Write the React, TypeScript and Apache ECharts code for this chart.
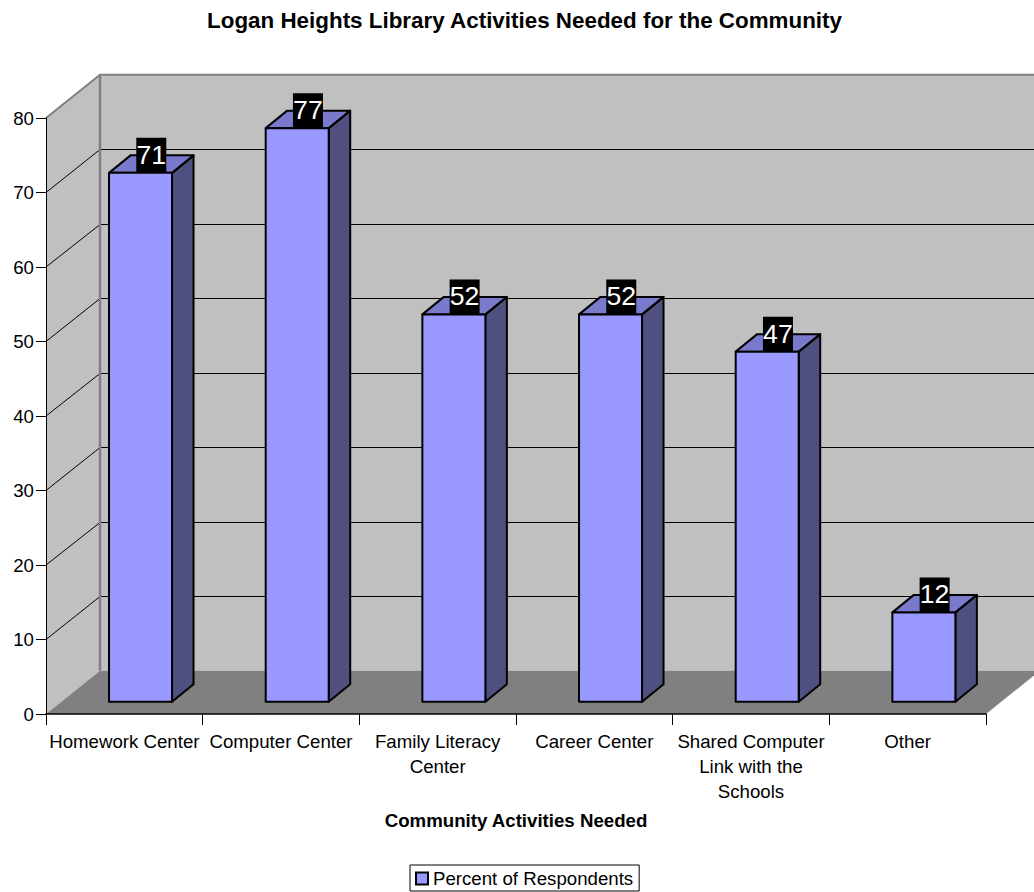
import React, { useEffect, useRef } from "react";
import * as echarts from "echarts";

const titleText = "Logan Heights Library Activities Needed for the Community";
const xAxisTitle = "Community Activities Needed";
const seriesName = "Percent of Respondents";
const categories = [
  "Homework Center",
  "Computer Center",
  "Family Literacy Center",
  "Career Center",
  "Shared Computer Link with the Schools",
  "Other",
];
const wrappedLabels = [
  "Homework Center",
  "Computer Center",
  "Family Literacy\nCenter",
  "Career Center",
  "Shared Computer\nLink with the\nSchools",
  "Other",
];
const values = [71, 77, 52, 52, 47, 12];
const gridValues = [10, 20, 30, 40, 50, 60, 70];

const FONT = '"Liberation Sans", Arial, sans-serif';
const WALL_DX = 54;
const WALL_DY = 43.3;
const BAR_SHIFT_X = 16.2;
const BAR_SHIFT_Y = 12.2;
const BAR_W = 63;
const BAR_DX = 21.5;
const BAR_DY = 17.5;

function renderWalls(params: any, api: any) {
  const cs = params.coordSys;
  const x0 = cs.x;
  const x1 = cs.x + cs.width;
  const y0 = api.coord([0, 0])[1];
  const yTop = api.coord([0, 80])[1];
  const children: any[] = [
    {
      type: "polygon",
      shape: { points: [[x0, y0], [x0 + WALL_DX, y0 - WALL_DY], [x1 + WALL_DX, y0 - WALL_DY], [x1 + WALL_DX, yTop - WALL_DY], [x0 + WALL_DX, yTop - WALL_DY], [x0, yTop]] },
      style: { fill: "#c0c0c0", stroke: "none" },
    },
    {
      type: "polygon",
      shape: { points: [[x0, y0], [x1, y0], [x1 + WALL_DX, y0 - WALL_DY], [x0 + WALL_DX, y0 - WALL_DY]] },
      style: { fill: "#808080", stroke: "none" },
    },
  ];
  gridValues.forEach((v) => {
    const y = api.coord([0, v])[1];
    const backY = Math.round(y - WALL_DY) + 0.5;
    children.push({
      type: "polyline",
      shape: { points: [[x0, y], [x0 + WALL_DX, backY], [x1 + WALL_DX, backY]] },
      style: { fill: "none", stroke: "#000", lineWidth: 1 },
    });
  });
  children.push({
    type: "polyline",
    shape: { points: [[x0, yTop], [x0 + WALL_DX, yTop - WALL_DY], [x1 + WALL_DX, yTop - WALL_DY]] },
    style: { fill: "none", stroke: "#808080", lineWidth: 2 },
  });
  children.push({
    type: "line",
    shape: { x1: x0 + WALL_DX, y1: yTop - WALL_DY, x2: x0 + WALL_DX, y2: y0 - WALL_DY },
    style: { stroke: "#808080", lineWidth: 2.5 },
  });
  return { type: "group", children };
}

function renderBar(params: any, api: any) {
  const idx = api.value(0);
  const v = api.value(1);
  const top = api.coord([idx, v]);
  const base = api.coord([idx, 0]);
  const l = top[0] + BAR_SHIFT_X - BAR_W / 2;
  const r = l + BAR_W;
  const t = top[1] - BAR_SHIFT_Y;
  const b = base[1] - BAR_SHIFT_Y;
  const edge = { stroke: "#000", lineWidth: 2, lineJoin: "round" };
  const labelX = (l + r + BAR_DX) / 2;
  return {
    type: "group",
    children: [
      {
        type: "polygon",
        shape: { points: [[r, t], [r + BAR_DX, t - BAR_DY], [r + BAR_DX, b - BAR_DY], [r, b]] },
        style: { fill: "#4f4f80", ...edge },
      },
      {
        type: "polygon",
        shape: { points: [[l, t], [l + BAR_DX, t - BAR_DY], [r + BAR_DX, t - BAR_DY], [r, t]] },
        style: { fill: "#7a7acc", ...edge },
      },
      {
        type: "rect",
        shape: { x: l, y: t, width: BAR_W, height: b - t },
        style: { fill: "#9999ff", ...edge },
      },
      {
        type: "rect",
        shape: { x: labelX - 15, y: t - 35, width: 30, height: 35 },
        style: { fill: "#000" },
      },
      {
        type: "text",
        x: labelX,
        y: t - 18,
        style: {
          text: String(v),
          fill: "#fff",
          font: `26.67px ${FONT}`,
          align: "center",
          verticalAlign: "middle",
        },
      },
    ],
  };
}

export default function App() {
  const ref = useRef<HTMLDivElement>(null);
  useEffect(() => {
    const chart = echarts.init(ref.current!, undefined, { renderer: "svg" });
    chart.setOption({
      animation: false,
      backgroundColor: "#fff",
      title: {
        text: titleText,
        left: 519.5,
        top: 4,
        textAlign: "center",
        textStyle: { fontFamily: FONT, fontSize: 22.4, fontWeight: "bold", color: "#000" },
      },
      legend: {
        left: 410,
        top: 865,
        padding: [4, 6, 3, 5],
        borderColor: "#000",
        borderWidth: 1,
        data: [seriesName],
        icon: "rect",
        itemWidth: 12,
        itemHeight: 12,
        itemStyle: { color: "#9999ff", borderColor: "#000", borderWidth: 2 },
        selectedMode: false,
        textStyle: { fontFamily: FONT, fontSize: 18.67, color: "#000", padding: [3, 0, 0, 0] },
      },
      grid: { left: 46, right: 48, top: 118, bottom: 178 },
      xAxis: {
        type: "category",
        data: categories,
        z: 5,
        name: xAxisTitle,
        nameLocation: "middle",
        nameGap: 97,
        nameTextStyle: { fontFamily: FONT, fontSize: 18.67, fontWeight: "bold", color: "#000" },
        axisLine: { lineStyle: { color: "#000", width: 1.5 } },
        axisTick: { show: true, length: 11, alignWithLabel: false, lineStyle: { color: "#000" } },
        axisLabel: {
          show: true,
          interval: 0,
          margin: 15,
          lineHeight: 25,
          fontFamily: FONT,
          fontSize: 18.67,
          color: "#000",
          formatter: (_: string, i: number) => wrappedLabels[i],
        },
      },
      yAxis: {
        type: "value",
        min: 0,
        max: 80,
        interval: 10,
        z: 5,
        splitLine: { show: false },
        axisLine: { show: true, lineStyle: { color: "#000", width: 1 } },
        axisTick: { show: true, length: 10, lineStyle: { color: "#000" } },
        axisLabel: { margin: 12, fontFamily: FONT, fontSize: 18.67, color: "#000" },
      },
      series: [
        {
          type: "custom",
          name: "walls",
          renderItem: renderWalls,
          data: [[0, 0]],
          silent: true,
          z: 1,
          clip: false,
        },
        {
          type: "custom",
          name: seriesName,
          renderItem: renderBar,
          data: values.map((v, i) => [i, v]),
          encode: { x: 0, y: 1 },
          itemStyle: { color: "#9999ff" },
          z: 2,
          clip: false,
        },
      ],
    });
    return () => chart.dispose();
  }, []);
  return (
    <div
      ref={ref}
      style={{ position: "absolute", left: 0, top: 0, width: 1034, height: 892, overflow: "hidden" }}
    />
  );
}
